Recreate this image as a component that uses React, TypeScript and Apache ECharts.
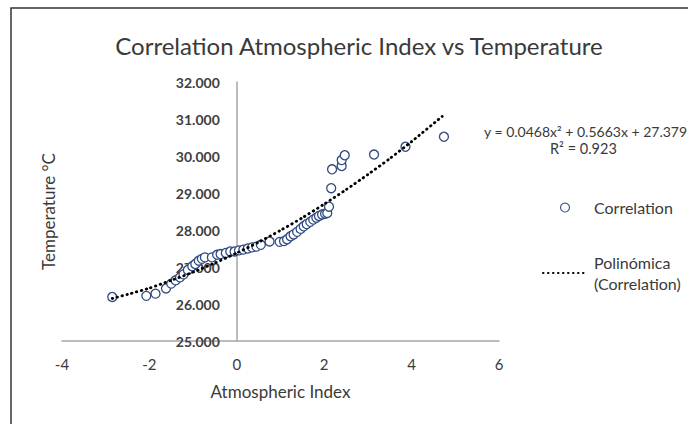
import React, { useEffect, useRef } from 'react';
import * as echarts from 'echarts';

const chartTitle = 'Correlation Atmospheric Index vs Temperature';
const xAxisTitle = 'Atmospheric Index';
const yAxisTitle = 'Temperature °C';
const scatterName = 'Correlation';
const trendName = 'Polinómica (Correlation)';
const equationText = 'y = 0.0468x² + 0.5663x + 27.379';
const r2Text = 'R² = 0.923';

// Scatter points: Atmospheric Index (x) vs Temperature (y)
const indexValues = [
  -2.85, -2.07, -1.86, -1.62, -1.5, -1.4, -1.3, -1.22, -1.12, -1.02, -0.95, -0.87, -0.8, -0.73,
  -0.57, -0.45, -0.37, -0.25, -0.15, -0.05, 0.05, 0.15, 0.25, 0.35, 0.45, 0.55, 0.75, 0.98,
  1.08, 1.15, 1.23, 1.3, 1.38, 1.46, 1.53, 1.6, 1.68, 1.75, 1.82, 1.88, 1.95, 2.02, 2.07,
  2.11, 2.16, 2.18, 2.4, 2.4, 2.47, 3.14, 3.86, 4.74,
];
const temperatureValues = [
  26.19, 26.22, 26.28, 26.42, 26.55, 26.64, 26.72, 26.8, 26.92, 27.02, 27.08, 27.17, 27.22, 27.26,
  27.26, 27.33, 27.35, 27.38, 27.42, 27.42, 27.45, 27.47, 27.5, 27.53, 27.55, 27.6, 27.69, 27.68,
  27.7, 27.75, 27.83, 27.88, 27.95, 28.03, 28.1, 28.16, 28.22, 28.28, 28.33, 28.38, 28.42, 28.44, 28.46,
  28.63, 29.13, 29.64, 29.73, 29.89, 30.02, 30.04, 30.25, 30.52,
];

// Polynomial trendline
const trendX = [-2.85, -2.5, -2, -1.5, -1, -0.5, 0, 0.5, 1, 1.5, 2, 2.5, 3, 3.5, 4, 4.7];
const trendY = [26.15, 26.26, 26.43, 26.64, 26.86, 27.11, 27.38, 27.67, 27.99, 28.33, 28.7, 29.09, 29.5, 29.93, 30.39, 31.07];

const xTicks = { min: -4, max: 6, interval: 2 };
const yTicks = { min: 25, max: 32, interval: 1 };

const FONT = 'Lato, "Open Sans", sans-serif';
const TEXT = '#3a3a3a';

const W = 688;
const H = 424;
const GRID = { left: 62, right: 189, top: 82, bottom: 83 };

export default function App() {
  const ref = useRef<HTMLDivElement>(null);

  useEffect(() => {
    const chart = echarts.init(ref.current!, null, { renderer: 'svg' });
    const scatterData = indexValues.map((x, i) => [x, temperatureValues[i]]);
    const trendData = trendX.map((x, i) => [x, trendY[i]]);

    // place the vertical axis (line + labels + name) at x = 0
    const plotWidth = W - GRID.left - GRID.right;
    const zeroOffset = ((0 - xTicks.min) / (xTicks.max - xTicks.min)) * plotWidth;

    chart.setOption({
      animation: false,
      backgroundColor: '#ffffff',
      title: {
        text: chartTitle,
        left: 354,
        textAlign: 'center',
        top: 28,
        textStyle: { fontFamily: FONT, fontSize: 24, fontWeight: 'normal', color: TEXT },
      },
      grid: { ...GRID, containLabel: false, outerBoundsMode: 'none' },
      xAxis: {
        type: 'value',
        min: xTicks.min,
        max: xTicks.max,
        interval: xTicks.interval,
        name: xAxisTitle,
        nameLocation: 'middle',
        nameGap: 42,
        nameTextStyle: { fontFamily: FONT, fontSize: 17, color: TEXT },
        axisLine: { show: true, onZero: false, lineStyle: { color: '#a6a6a6', width: 1.5 } },
        axisTick: { show: false },
        splitLine: { show: false },
        axisLabel: { fontFamily: FONT, fontSize: 15, color: TEXT, margin: 15 },
      },
      yAxis: {
        type: 'value',
        min: yTicks.min,
        max: yTicks.max,
        interval: yTicks.interval,
        offset: -zeroOffset,
        name: yAxisTitle,
        nameLocation: 'middle',
        nameGap: 180,
        nameRotate: 90,
        nameTextStyle: { fontFamily: FONT, fontSize: 17, color: TEXT },
        axisLine: { show: true, onZero: false, lineStyle: { color: '#a6a6a6', width: 1.5 } },
        axisTick: { show: false },
        splitLine: { show: false },
        axisLabel: {
          fontFamily: FONT,
          fontSize: 14,
          fontWeight: 'bold',
          color: '#404040',
          margin: 17,
          formatter: (v: number) => v.toFixed(3),
        },
      },
      legend: {
        orient: 'vertical',
        left: 537,
        top: 192,
        itemWidth: 44,
        itemHeight: 9,
        itemGap: 34,
        textStyle: { fontFamily: FONT, fontSize: 16, color: TEXT, lineHeight: 21, padding: [0, 0, 0, 2] },
        formatter: (name: string) => (name === trendName ? 'Polinómica\n(Correlation)' : name),
        data: [
          { name: scatterName, icon: 'circle', itemStyle: { borderWidth: 1.1 } },
          { name: trendName, itemStyle: { opacity: 0 } },
        ],
      },
      graphic: [
        {
          type: 'rect',
          shape: { x: 11, y: 8, width: 720, height: 460 },
          style: { fill: 'none', stroke: '#333333', lineWidth: 1.5 },
          silent: true,
        },
        {
          type: 'text',
          x: 484,
          y: 131,
          style: {
            text: equationText,
            fontFamily: FONT,
            fontSize: 14,
            lineHeight: 15,
            fill: TEXT,
            verticalAlign: 'middle',
          },
        },
        {
          type: 'text',
          x: 550,
          y: 148,
          style: {
            text: r2Text,
            fontFamily: FONT,
            fontSize: 14.5,
            lineHeight: 15,
            fill: TEXT,
            verticalAlign: 'middle',
          },
        },
      ],
      series: [
        {
          name: scatterName,
          type: 'scatter',
          data: scatterData,
          symbol: 'circle',
          symbolSize: 9,
          itemStyle: { color: '#ffffff', borderColor: '#2f4a80', borderWidth: 1.3, opacity: 1 },
          z: 2,
        },
        {
          name: trendName,
          type: 'line',
          data: trendData,
          smooth: 0.2,
          symbol: 'none',
          lineStyle: { color: '#000000', width: 2.8, type: [0.5, 4.5], cap: 'round' },
          itemStyle: { color: '#000000' },
          z: 3,
        },
      ],
    });

    return () => chart.dispose();
  }, []);

  return (
    <div
      ref={ref}
      style={{ position: 'fixed', left: 0, top: 0, width: W, height: H, background: '#ffffff' }}
    />
  );
}
